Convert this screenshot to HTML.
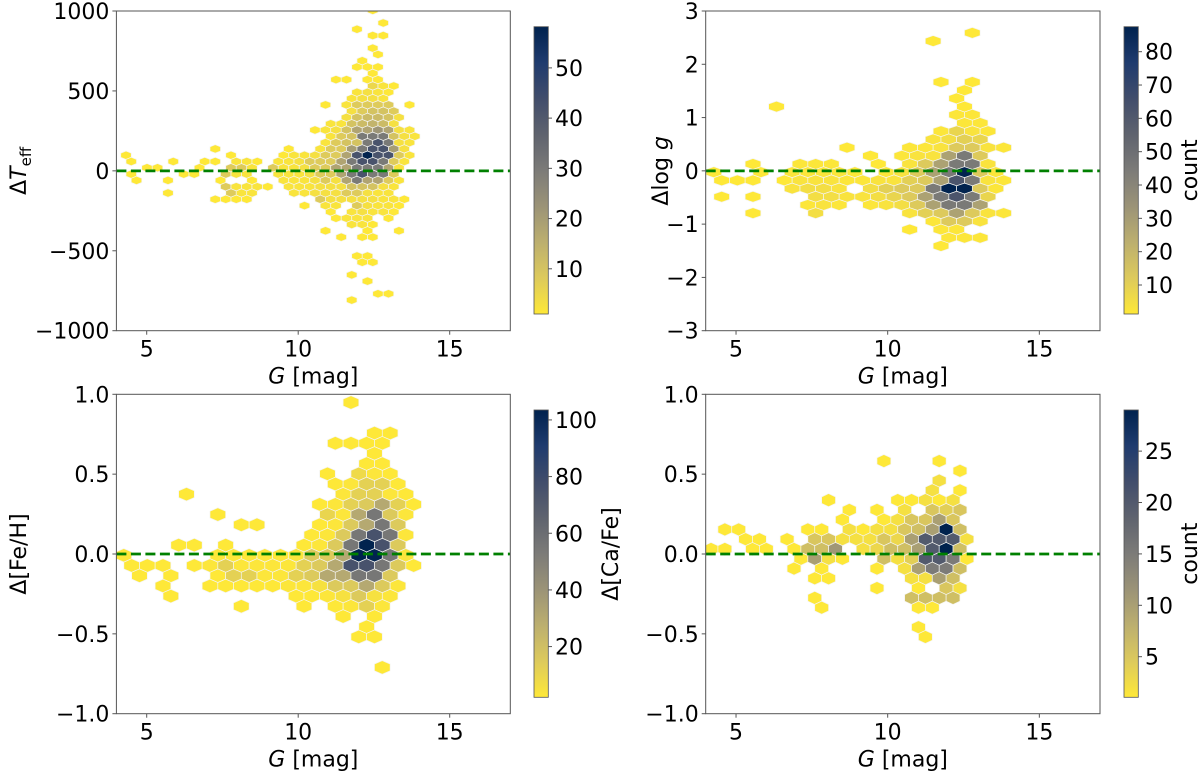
<!DOCTYPE html>
<html><head><meta charset="utf-8"><style>
html,body{margin:0;padding:0;background:#fff}
svg text{font-family:"DejaVu Sans","Liberation Sans",sans-serif;fill:#000}
</style></head><body>
<svg id="fig" xmlns="http://www.w3.org/2000/svg" width="1200" height="773" viewBox="0 0 1200 773">
<defs>
<linearGradient id="cvd" x1="0" y1="1" x2="0" y2="0">
<stop offset="0" stop-color="#fee838"/><stop offset="0.125" stop-color="#ddca5c"/><stop offset="0.25" stop-color="#bcaf6f"/><stop offset="0.375" stop-color="#9b9377"/><stop offset="0.5" stop-color="#7c7b78"/><stop offset="0.625" stop-color="#5f636e"/><stop offset="0.75" stop-color="#414d6b"/><stop offset="0.875" stop-color="#1f3b6e"/><stop offset="1" stop-color="#00224e"/>
</linearGradient>
</defs>
</svg>
<script>
// ---------- data: panel 1 (ΔTeff) ----------
const p1RowIdx=[25,23,22,21,19,18,17,16,15,14,13,12,11,10,9,8,7,6,5,4,3,2,1,0,-1,-2,-3,-4,-5,-6,-7,-8,-9,-10,-11,-14,-15,-17,-18,-20,-21];
const p1Start=[23,24,22,23,23,24,22,22,23,20,23,22,21,19,21,21,19,18,19,19,8,0,0,2,0,1,9,4,8,17,19,20,21,19,20,22,22,21,23,24,21];
const p1Counts=[[1],[1],[1],[1,1],[1],[1],[1],[1,1,1],[1],[1,1,0,1,1],[5,2,1],[2,3,2,1],[2,3,3,2],[1,0,2,8,8,8,8,0,1],[3,8,10,10,8],[3,10,12,12,10,3],[2,2,10,12,14,12,3],[1,2,3,10,18,18,22,18,3,2],[2,8,10,30,30,30,10,3,2],[2,8,10,10,30,42,30,3,2],
[1,0,0,0,0,0,0,1,0,0,2,8,8,20,30,42,42,20,3],
[1,0,0,0,0,0,0,0,0,0,1,0,0,0,0,1,2,2,3,8,8,18,42,58,42,42,8,2],
[1,0,0,0,1,0,0,1,1,0,2,2,1,0,2,2,3,8,8,8,18,30,42,42,30,8,2],
[1,1,0,0,0,1,0,0,8,8,2,0,8,2,2,3,8,8,18,18,30,30,30,18,2],
[1,0,0,0,0,1,1,0,0,8,2,2,0,0,2,2,2,3,8,8,18,30,42,30,30,8],
[1,0,0,1,0,0,0,0,1,0,0,1,0,0,2,2,2,3,8,3,18,30,18,18,8,2],
[8,2,2,2,1,0,2,2,2,3,3,3,10,10,10,3,2],
[1,0,0,0,0,0,8,2,2,0,0,0,2,2,3,3,3,8,8,3,2,2],
[1,1,1,1,0,0,0,0,0,0,8,3,3,3,3,3,2,2,1],
[1,0,2,2,0,8,3,2,2,1],[1,0,2,3,2,2,1],[1,2,2,2,0,1],[2,2,1],[1,0,0,0,1,0,0,1],[1,0,1,1],[1,1],[1,1],[1],[1],[1,1],[1]];
// ---------- data: panel 2 (Δlog g) ----------
const p2RowIdx=[17,16,11,10,9,8,7,6,5,4,3,2,1,0,-1,-2,-3,-4,-5,-6,-7,-8,-9];
const p2Start=[16,14,14,16,15,4,15,16,14,14,8,10,2,0,0,5,0,6,2,14,12,15,14];
const p2Counts=[[1],[1],[1,0,1],[1],[1],[1,0,0,0,0,0,0,0,0,0,0,0,1],[2,2],[2,2],[2,8,3,2],[3,5,10,8],
[1,0,0,0,2,2,3,12,12,3,2],[1,0,2,3,3,28,45,12],[1,0,0,2,2,2,0,0,1,0,3,12,28,45,45,3],
[1,0,0,1,0,2,2,2,2,1,0,2,3,12,28,45,87,12,2],[1,1,1,0,1,3,3,3,2,2,3,3,10,12,28,62,45,3,2],
[3,5,5,3,0,5,10,12,12,45,87,87,12,2],[1,0,1,0,0,0,5,5,3,3,5,8,12,28,45,62,45,8],
[2,3,2,0,2,3,5,12,28,45,45,28],[1,0,0,0,5,0,0,0,0,0,3,10,12,28,12,3,2],[2,12,12,3],[1,0,2,2],[2,2,2],[1]];
// ---------- data: panel 3 (Δ[Fe/H]) ----------
const p3RowIdx=[15,12,11,10,9,8,7,6,5,4,3,2,1,0,-1,-2,-3,-4,-5,-6,-7,-8,-11];
const p3Start=[14,16,13,16,15,13,13,4,12,6,7,12,3,0,0,1,2,3,7,14,15,15,16];
const p3Counts=[[1],[1,1],[1,1,1,1],[2],[2,2],[1,0,8,3,2],[2,3,12,12,2],[1,0,0,0,0,0,0,0,0,0,3,12,12,3,2],
[2,3,12,15,30,12,2],[1,0,0,0,0,0,0,10,3,30,55,15,3],[1,1,0,0,0,2,3,15,30,55,15],[2,3,15,55,75,55,3],
[1,1,0,1,0,0,0,0,2,3,15,55,103,75,15],[1,0,0,0,0,0,2,2,2,2,2,3,15,15,30,103,103,55,3],
[2,2,2,0,2,3,12,3,3,3,3,12,15,30,75,75,55,15,2],[1,0,1,0,0,2,12,12,3,3,12,15,30,30,55,55,15],
[1,0,0,2,2,2,2,2,3,3,5,15,15,30,15,3],[1,0,0,0,0,0,0,0,2,2,3,5,15,5,3],[1,0,0,0,1,0,2,3,12,3],[2,0,2],[2],[1,1],[1]];
// ---------- data: panel 4 (Δ[Ca/Fe]) ----------
const p4RowIdx=[9,8,7,6,5,4,3,2,1,0,-1,-2,-3,-4,-5,-6,-8,-9];
const p4Start=[12,18,16,16,8,10,9,1,2,0,6,6,7,12,7,8,15,15];
const p4Counts=[[1,0,0,0,1],[1],[2],[2,0,1],[1,0,0,0,0,1,1,2,1,2],[1,0,1,0,2,0,5,4,5],[1,0,0,1,2,5,5,10,5],
[1,1,0,0,0,0,1,1,0,2,1,2,2,5,6,10,29,6],[1,1,0,1,0,5,5,2,2,2,5,3,10,20,20,20,2],
[1,1,0,1,1,0,1,6,6,11,0,2,3,6,6,10,20,29,6],[1,10,2,1,0,0,6,2,4,20,20,15,1],[1,0,1,0,0,0,1,0,2,10,15,15,6],
[1,1,0,0,0,0,0,2,2,10,6],[1,0,0,1,0,5,2],[1,0,0,0,0,0,0,6,6,6,6],[1,0,0,0,0,0,0,1,1],[1],[1]];
// ---------- tick labels ----------
const xTicks=[5,10,15];
const yTicks1=[1000,500,0,-500,-1000];
const yTicks2=[3,2,1,0,-1,-2,-3];
const yTicks34=[1.0,0.5,0.0,-0.5,-1.0];
const cbTicks1=[10,20,30,40,50];
const cbTicks2=[10,20,30,40,50,60,70,80];
const cbTicks3=[20,40,60,80,100];
const cbTicks4=[5,10,15,20,25];

const NS='http://www.w3.org/2000/svg';
const svg=document.getElementById('fig');
function mk(tag,attrs,parent){const e=document.createElementNS(NS,tag);for(const k in attrs)e.setAttribute(k,attrs[k]);(parent||svg).appendChild(e);return e;}
const cvStops=[[0,[0,34,78]],[0.125,[31,59,110]],[0.25,[65,77,107]],[0.375,[95,99,110]],[0.5,[124,123,120]],[0.625,[155,147,119]],[0.75,[188,175,111]],[0.875,[221,202,92]],[1,[254,232,56]]];
function cividisR(t){t=1-Math.max(0,Math.min(1,t));for(let i=1;i<cvStops.length;i++){if(t<=cvStops[i][0]){const a=cvStops[i-1],b=cvStops[i];const f=(t-a[0])/(b[0]-a[0]);const c=a[1].map((v,j)=>Math.round(v+(b[1][j]-v)*f));return `rgb(${c[0]},${c[1]},${c[2]})`;}}return 'rgb(254,232,56)';}
function fmt(v,dec){const s=dec?v.toFixed(1):String(v);return s.replace('-','\u2212');}

const panels=[
 {id:'teff',rows:p1RowIdx,starts:p1Start,counts:p1Counts,px0:116.4,px1:510.3,pyT:11,pyB:330.7,ymin:-1000,ymax:1000,yt:yTicks1,dec:false,
  gx0:4.317,gdx:0.3465,gy0:19.0,gdy:39.4,vmin:1,vmax:58.2,cbx:534,cbT:26.7,cbB:314,cbt:cbTicks1,count:false,
  ylab:'<tspan>Δ</tspan><tspan font-style="italic">T</tspan><tspan font-size="15" dy="5">eff</tspan>',ylx:18},
 {id:'logg',rows:p2RowIdx,starts:p2Start,counts:p2Counts,px0:705.7,px1:1100,pyT:11,pyB:330.7,ymin:-3,ymax:3,yt:yTicks2,dec:false,
  gx0:4.268,gdx:0.5165,gy0:-0.025,gdy:0.1538,vmin:1.3,vmax:87.5,cbx:1124,cbT:26.7,cbB:314,cbt:cbTicks2,count:true,
  ylab:'<tspan>Δlog</tspan><tspan font-style="italic"> g</tspan>',ylx:660},
 {id:'feh',rows:p3RowIdx,starts:p3Start,counts:p3Counts,px0:116.4,px1:510.3,pyT:394.3,pyB:713.7,ymin:-1,ymax:1,yt:yTicks34,dec:true,
  gx0:4.245,gdx:0.517,gy0:-0.0084,gdy:0.0638,vmin:2.1,vmax:103.5,cbx:534,cbT:410,cbB:697.3,cbt:cbTicks3,count:false,
  ylab:'<tspan>Δ[Fe/H]</tspan>',ylx:18},
 {id:'cafe',rows:p4RowIdx,starts:p4Start,counts:p4Counts,px0:705.7,px1:1100,pyT:394.3,pyB:713.7,ymin:-1,ymax:1,yt:yTicks34,dec:true,
  gx0:4.175,gdx:0.456,gy0:0.0313,gdy:0.0612,vmin:1.05,vmax:29,cbx:1124,cbT:410,cbB:697.3,cbt:cbTicks4,count:true,
  ylab:'<tspan>Δ[Ca/Fe]</tspan>',ylx:610}
];

panels.forEach((P,pi)=>{
 const X=v=>P.px0+(v-4)/13*(P.px1-P.px0);
 const Y=v=>P.pyB-(v-P.ymin)/(P.ymax-P.ymin)*(P.pyB-P.pyT);
 const g=mk('g',{});
 
 
 const clip=mk('clipPath',{id:'clip'+pi},svg.querySelector('defs'));
 mk('rect',{x:P.px0,y:P.pyT,width:P.px1-P.px0,height:P.pyB-P.pyT},clip);
 const hg=mk('g',{'clip-path':'url(#clip'+pi+')'},g);
 
 
 const w=Math.abs(X(P.gx0+P.gdx)-X(P.gx0));
 const dyp=Math.abs(Y(P.gdy)-Y(0));
 P.rows.forEach((k,ri)=>{
  const odd=Math.abs(k)%2===1;
  P.counts[ri].forEach((c,ci)=>{
   if(!c)return;
   const col=P.starts[ri]+ci;
   const cx=X(P.gx0+P.gdx*(col+(odd?0.5:0)));
   const cy=Y(P.gy0+P.gdy*k);
   const pts=[[w/2,dyp/3],[0,dyp*2/3],[-w/2,dyp/3],[-w/2,-dyp/3],[0,-dyp*2/3],[w/2,-dyp/3]].map(p=>(cx+p[0]).toFixed(2)+','+(cy+p[1]).toFixed(2)).join(' ');
   const h=mk('polygon',{points:pts,fill:cividisR((c-P.vmin)/(P.vmax-P.vmin)),stroke:'#f4f4f0','stroke-width':0.7},hg);
   
   
  });
 });
 const zl=mk('line',{x1:P.px0,x2:P.px1,y1:Y(0),y2:Y(0),stroke:'#008000','stroke-width':2.8,'stroke-dasharray':'10 4.5'},g);
 
 
 const fr=mk('rect',{x:P.px0,y:P.pyT,width:P.px1-P.px0,height:P.pyB-P.pyT,fill:'none',stroke:'#555','stroke-width':1},g);
 
 
 xTicks.forEach(t=>{
  mk('line',{x1:X(t),x2:X(t),y1:P.pyB,y2:P.pyB+4,stroke:'#555','stroke-width':1},g);
  const tx=mk('text',{x:X(t),y:P.pyB+26,'text-anchor':'middle','font-size':22},g);
  tx.textContent=t;
  
  
 });
 P.yt.forEach(t=>{
  mk('line',{x1:P.px0-4,x2:P.px0,y1:Y(t),y2:Y(t),stroke:'#555','stroke-width':1},g);
  const tx=mk('text',{x:P.px0-7,y:Y(t)+8,'text-anchor':'end','font-size':22},g);
  tx.textContent=fmt(t,P.dec);
  
  
 });
 const xl=mk('text',{x:(P.px0+P.px1)/2,y:P.pyB+53,'text-anchor':'middle','font-size':22},g);
 xl.innerHTML='<tspan font-style="italic">G</tspan> [mag]';
 
 
 const ymid=(P.pyT+P.pyB)/2;
 const yl=mk('text',{x:P.ylx,y:ymid,'text-anchor':'middle','font-size':22,transform:`rotate(-90 ${P.ylx} ${ymid})`,dy:8},g);
 yl.innerHTML=P.ylab;
 
 
 const cb=mk('g',{},g);
 
 
 mk('rect',{x:P.cbx,y:P.cbT,width:14.3,height:P.cbB-P.cbT,fill:'url(#cvd)',stroke:'#555','stroke-width':0.8},cb);
 const CY=v=>P.cbB-(v-P.vmin)/(P.vmax-P.vmin)*(P.cbB-P.cbT);
 P.cbt.forEach(t=>{
  mk('line',{x1:P.cbx+14.3,x2:P.cbx+18,y1:CY(t),y2:CY(t),stroke:'#555','stroke-width':1},cb);
  const tx=mk('text',{x:P.cbx+21,y:CY(t)+8,'font-size':22},cb);
  tx.textContent=t;
  
  
 });
 if(P.count){
  const cy=(P.cbT+P.cbB)/2;
  const cl=mk('text',{x:1190,y:cy,'text-anchor':'middle','font-size':22,transform:`rotate(-90 1190 ${cy})`,dy:7},cb);
  cl.textContent='count';
  
  
 }
});
</script>
</body></html>
